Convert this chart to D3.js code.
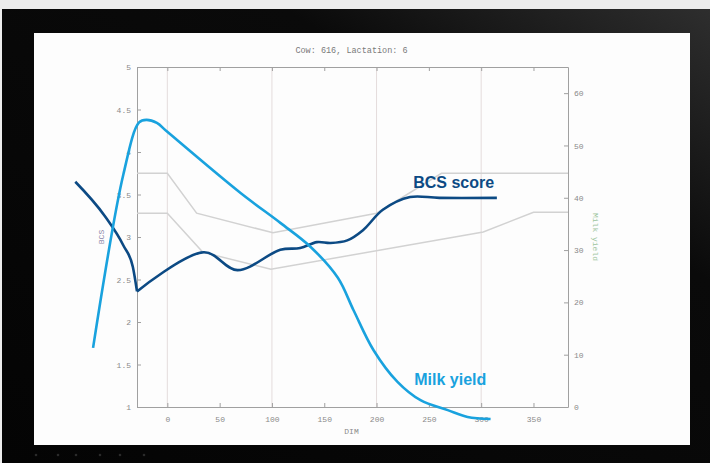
<!DOCTYPE html>
<html>
<head>
<meta charset="utf-8">
<script src="https://cdn.jsdelivr.net/npm/d3@7"></script>
<style>
  body { margin: 0; background: #ececec; }
  svg { display: block; }
  .axis path, .axis line { stroke: #a0a0a0; }
  .axis text { fill: #8a8a8a; font-family: "Liberation Mono", monospace; font-size: 8px; }
  .grid line { stroke: #e4dcdc; }
  .band { fill: none; stroke: #d2d2d2; stroke-width: 1.5; }
  .bcs { fill: none; stroke: #0c4a84; stroke-width: 2.6; stroke-linejoin: round; }
  .milk { fill: none; stroke: #19a2de; stroke-width: 2.6; stroke-linejoin: round; }
</style>
</head>
<body>
<svg width="710" height="463"></svg>
<script>
// ticks
var dimTicks = [0, 50, 100, 150, 200, 250, 300, 350];
var gridTicks = [0, 100, 200, 300];
var bcsTicks = [1, 1.5, 2, 2.5, 3, 3.5, 4, 4.5, 5];
var milkTicks = [0, 10, 20, 30, 40, 50, 60];

// target BCS band (upper / lower)
var upperDay = [-29, 0, 28, 101, 200, 262, 383];
var upperBcs = [3.75, 3.75, 3.28, 3.05, 3.28, 3.75, 3.75];
var lowerDay = [-29, 0, 34, 99, 302, 350, 383];
var lowerBcs = [3.28, 3.28, 2.82, 2.62, 3.06, 3.29, 3.29];

// BCS score curve, corner at index 4 (minimum)
var bcsDay = [-88, -60, -42, -33, -29, 35, 67, 108, 127, 143, 156, 172, 187, 206, 232, 260, 315];
var bcsScore = [3.65, 3.25, 2.9, 2.65, 2.36, 2.82, 2.61, 2.85, 2.87, 2.94, 2.93, 2.96, 3.08, 3.32, 3.47, 3.46, 3.46];
var bcsCorner = 4;

// milk yield curve
var milkDay = [-71, -42, -27, -20, -10, 0, 70, 108, 137, 163, 178, 197, 220, 242, 268, 287, 309];
var milkKg = [11.3, 44.5, 54.4, 54.9, 54.3, 52.6, 40.9, 35.2, 30.6, 24.7, 18.5, 10.9, 4.8, 1.3, -0.6, -1.9, -2.3];

var svg = d3.select("svg"),
    plot = {left: 137, right: 568, top: 67, bottom: 407};

// monitor
var defs = svg.append("defs");
var grad = defs.append("linearGradient").attr("id", "bezel")
    .attr("x1", "0").attr("x2", "1").attr("y1", "1").attr("y2", "0");
grad.append("stop").attr("offset", "0").attr("stop-color", "#040404");
grad.append("stop").attr("offset", "0.7").attr("stop-color", "#0a0a0a");
grad.append("stop").attr("offset", "1").attr("stop-color", "#2e2e2e");

svg.append("rect").attr("x", 0).attr("y", 0).attr("width", 710).attr("height", 463).attr("fill", "#ececec");
svg.append("rect").attr("x", 2).attr("y", 9).attr("width", 708).attr("height", 454).attr("fill", "url(#bezel)");
svg.append("rect").attr("x", 34).attr("y", 33).attr("width", 656).attr("height", 412).attr("fill", "#fdfdfd");

svg.append("g").selectAll("circle")
    .data([36, 58, 76, 100, 120, 144])
  .enter().append("circle")
    .attr("cx", function(d) { return d; })
    .attr("cy", 455)
    .attr("r", 1.3)
    .attr("fill", "#2a2a2a");

var x = d3.scaleLinear().domain([-29, 383]).range([plot.left, plot.right]);
var yL = d3.scaleLinear().domain([1, 5]).range([plot.bottom, plot.top]);
var yR = d3.scaleLinear().domain([0, 65]).range([plot.bottom, plot.top]);

// grid
svg.append("g").attr("class", "grid").selectAll("line")
    .data(gridTicks)
  .enter().append("line")
    .attr("x1", function(d) { return x(d); })
    .attr("x2", function(d) { return x(d); })
    .attr("y1", plot.top)
    .attr("y2", plot.bottom);

// axes
svg.append("g")
    .attr("class", "axis")
    .attr("transform", "translate(0," + plot.bottom + ")")
    .call(d3.axisBottom(x).tickValues(dimTicks).tickSizeInner(-4).tickSizeOuter(0).tickPadding(9));

svg.append("g")
    .attr("class", "axis")
    .attr("transform", "translate(0," + plot.top + ")")
    .call(d3.axisTop(x).tickValues(dimTicks).tickSizeInner(-4).tickSizeOuter(0).tickFormat(""));

svg.append("g")
    .attr("class", "axis")
    .attr("transform", "translate(" + plot.left + ",0)")
    .call(d3.axisLeft(yL).tickValues(bcsTicks).tickSizeInner(-4).tickSizeOuter(0).tickPadding(6).tickFormat(d3.format("")));

svg.append("g")
    .attr("class", "axis")
    .attr("transform", "translate(" + plot.right + ",0)")
    .call(d3.axisRight(yR).tickValues(milkTicks).tickSizeInner(-4).tickSizeOuter(0).tickPadding(6));

// axis titles
svg.append("text")
    .attr("x", (plot.left + plot.right) / 2 - 1)
    .attr("y", 53)
    .attr("text-anchor", "middle")
    .attr("fill", "#7a7a7a")
    .style("font-family", "Liberation Mono, monospace")
    .style("font-size", "8.5px")
    .text("Cow: 616, Lactation: 6");

svg.append("text")
    .attr("x", (plot.left + plot.right) / 2 - 1)
    .attr("y", 434)
    .attr("text-anchor", "middle")
    .attr("fill", "#8a8a8a")
    .style("font-family", "Liberation Mono, monospace")
    .style("font-size", "8px")
    .text("DIM");

svg.append("text")
    .attr("transform", "translate(104," + yL(3) + ") rotate(-90)")
    .attr("text-anchor", "middle")
    .attr("fill", "#8a86a8")
    .style("font-family", "Liberation Mono, monospace")
    .style("font-size", "8px")
    .text("BCS");

svg.append("text")
    .attr("transform", "translate(593," + yL(3) + ") rotate(90)")
    .attr("text-anchor", "middle")
    .attr("fill", "#9cc49c")
    .style("font-family", "Liberation Mono, monospace")
    .style("font-size", "8px")
    .text("Milk yield");

// band lines
var bandLine = d3.line()
    .x(function(d) { return x(d[0]); })
    .y(function(d) { return yL(d[1]); });

svg.append("path")
    .datum(d3.zip(upperDay, upperBcs))
    .attr("class", "band")
    .attr("d", bandLine);

svg.append("path")
    .datum(d3.zip(lowerDay, lowerBcs))
    .attr("class", "band")
    .attr("d", bandLine);

// BCS curve (two smooth pieces joined at the corner)
var bcsLeft = d3.line()
    .curve(d3.curveMonotoneX)
    .x(function(d) { return x(d[0]); })
    .y(function(d) { return yL(d[1]); });
var bcsRight = d3.line()
    .curve(d3.curveCatmullRom.alpha(0.5))
    .x(function(d) { return x(d[0]); })
    .y(function(d) { return yL(d[1]); });

var bcsPts = d3.zip(bcsDay, bcsScore);
svg.append("path")
    .datum(bcsPts.slice(0, bcsCorner + 1))
    .attr("class", "bcs")
    .attr("d", bcsLeft);
svg.append("path")
    .datum(bcsPts.slice(bcsCorner))
    .attr("class", "bcs")
    .attr("d", bcsRight);

// milk curve
var milkLine = d3.line()
    .curve(d3.curveCatmullRom.alpha(0.5))
    .x(function(d) { return x(d[0]); })
    .y(function(d) { return yR(d[1]); });

svg.append("path")
    .datum(d3.zip(milkDay, milkKg))
    .attr("class", "milk")
    .attr("d", milkLine);

// labels
svg.append("text")
    .attr("x", x(235))
    .attr("y", yL(3.58))
    .attr("fill", "#0c4a84")
    .style("font-family", "Liberation Sans, Arial, sans-serif")
    .style("font-weight", "bold")
    .style("font-size", "16px")
    .text("BCS score");

svg.append("text")
    .attr("x", x(236))
    .attr("y", yR(4.3))
    .attr("fill", "#19a2de")
    .style("font-family", "Liberation Sans, Arial, sans-serif")
    .style("font-weight", "bold")
    .style("font-size", "16px")
    .text("Milk yield");
</script>
</body>
</html>
